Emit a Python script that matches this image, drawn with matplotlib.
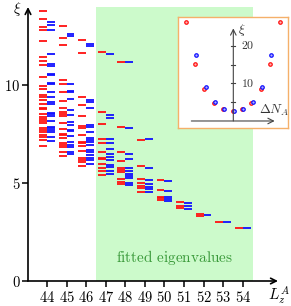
import numpy as np
import matplotlib
matplotlib.use("Agg")
import matplotlib.pyplot as plt

plt.rcParams['mathtext.fontset'] = 'cm'
plt.rcParams['font.size'] = 10

# entanglement levels (xi) per L_z^A sector, red / blue branches
Ls = [44, 45, 46, 47, 48, 49, 50, 51, 52, 53, 54]

red_44 = [13.78, 13.37, 12.96, 12.81, 12.26, 11.43, 11.22, 11.02, 10.42, 9.93, 9.80, 9.51, 9.40,
          9.25, 9.02, 8.83, 8.76, 8.52, 8.38, 8.27, 8.16, 8.05, 7.81, 7.70, 7.60, 7.43, 7.33, 7.18, 6.87]
blue_44 = [13.23, 13.06, 12.79, 11.57, 11.09, 10.98, 10.58, 10.51, 10.10, 10.05, 9.63, 9.40, 9.15,
           9.02, 8.59, 8.52, 8.43, 8.18, 7.87, 7.81, 7.70, 7.60, 7.36, 7.13]
red_45 = [12.99, 12.41, 12.04, 10.24, 10.04, 9.63, 9.17, 8.84, 8.64, 8.52, 8.42, 8.05, 7.76, 7.48,
          7.43, 7.30, 7.03, 6.92, 6.84, 6.58, 6.38]
blue_45 = [12.59, 12.50, 10.05, 9.71, 9.63, 9.30, 8.74, 8.45, 8.11, 7.96, 7.72, 7.65, 7.40, 7.07,
           6.94, 6.86, 6.57, 6.49]
red_46 = [12.28, 11.65, 9.40, 9.00, 8.43, 7.89, 7.82, 7.44, 7.11, 7.02, 6.89, 6.63, 6.28, 6.17, 6.06, 5.87]
blue_46 = [12.09, 11.99, 9.22, 9.13, 8.82, 7.96, 7.87, 7.60, 7.30, 7.19, 7.11, 6.96, 6.68, 6.58,
           6.44, 6.29, 6.19, 5.98]
red_47 = [11.67, 8.60, 8.00, 7.23, 7.04, 6.58, 6.28, 6.20, 5.96, 5.77, 5.60, 5.40]
blue_47 = [11.59, 8.48, 8.31, 7.22, 7.02, 6.72, 6.46, 6.31, 6.19, 5.91, 5.84, 5.59, 5.47]
red_48 = [11.15, 7.87, 6.57, 6.14, 5.75, 5.65, 5.54, 5.22, 5.07, 4.95]
blue_48 = [11.17, 7.82, 6.47, 6.21, 5.79, 5.62, 5.48, 5.37, 5.24, 5.01, 4.88]
red_49 = [7.18, 5.88, 5.20, 5.00, 4.86, 4.73, 4.54]
blue_49 = [7.22, 5.77, 5.15, 4.93, 4.81, 4.68, 4.53]
red_50 = [5.15, 4.66, 4.30, 4.22, 4.12]
blue_50 = [5.09, 4.58, 4.30, 4.20, 4.10]
red_51 = [4.05, 3.84, 3.71]
blue_51 = [3.99, 3.83, 3.69]
red_52 = [3.40, 3.33]
blue_52 = [3.35]
red_53 = [3.03]
blue_53 = [3.01]
red_54 = [2.72]
blue_54 = [2.70]

reds = [red_44, red_45, red_46, red_47, red_48, red_49, red_50, red_51, red_52, red_53, red_54]
blues = [blue_44, blue_45, blue_46, blue_47, blue_48, blue_49, blue_50, blue_51, blue_52, blue_53, blue_54]

# inset: lowest level vs Delta N_A
dN_red = [-5, -4, -3, -2, -1, 0, 1, 2, 3, 4, 5]
xi_red = [26.5, 15.2, 8.45, 4.8, 3.1, 2.67, 3.1, 4.8, 8.45, 15.2, 26.5]
dN_blue = [-4, -3, -2, -1, 0, 1, 2, 3, 4]
xi_blue = [17.6, 9.15, 5.0, 3.2, 2.67, 3.2, 5.0, 9.15, 17.6]

fit_lo, fit_hi = 46.5, 54.5

W, H = 291, 306
fig = plt.figure(figsize=(W / 100, H / 100), dpi=100)
ax = fig.add_axes([28 / W, 25 / H, 250 / W, 274 / H])

ax.axvspan(fit_lo, fit_hi, color='#ccfacb', lw=0, zorder=0)

for L, r, b in zip(Ls, reds, blues):
    ax.hlines(r, L - 0.4, L, colors='#ff1010', lw=1.3, zorder=2)
    ax.hlines(b, L, L + 0.4, colors='#1010ff', lw=1.3, zorder=2)

ax.text(50.5, 1.22, r'$\mathrm{fitted\ eigenvalues}$', color='#3a9a3a', fontsize=11,
        ha='center', va='center')

ax.set_xlim(43.03, 55.8)
ax.set_ylim(0, 13.98)
for s in ax.spines.values():
    s.set_visible(False)
ax.annotate('', xy=(1, 0), xytext=(0, 0), xycoords='axes fraction',
            arrowprops=dict(arrowstyle='->', lw=1.2, color='k', shrinkA=0, shrinkB=0))
ax.annotate('', xy=(0, 1), xytext=(0, 0), xycoords='axes fraction',
            arrowprops=dict(arrowstyle='->', lw=1.2, color='k', shrinkA=0, shrinkB=0))
ax.set_xticks(Ls)
ax.set_xticklabels(['$%d$' % L for L in Ls], fontsize=10.5)
ax.set_yticks([0, 5, 10])
ax.set_yticklabels(['$0$', '$5$', '$10$'], fontsize=10.5)
ax.tick_params(axis='x', direction='out', length=4.5, width=1.1, pad=2)
ax.tick_params(axis='y', direction='out', length=4.5, width=1.1, pad=1)
ax.patch.set_alpha(0)

fig.text(17 / W, 1 - 9 / H, r'$\xi$', fontsize=10.5, ha='center', va='center')
fig.text(279 / W, 1 - 296 / H, r'$L_z^A$', fontsize=11, ha='center', va='center')

# inset
ins = fig.add_axes([177.5 / W, 1 - 128.3 / H, 110.5 / W, 111.3 / H])
ins.set_xlim(-5.94, 5.82)
ins.set_ylim(-1.95, 27.73)
ins.set_xticks([])
ins.set_yticks([])
for s in ins.spines.values():
    s.set_color('#f5b06a')
    s.set_linewidth(1.0)
ins.annotate('', xy=(4.4, 0), xytext=(-4.47, 0),
             arrowprops=dict(arrowstyle='->', lw=0.8, color='#444444', shrinkA=0, shrinkB=0))
ins.annotate('', xy=(0, 24.7), xytext=(0, 0),
             arrowprops=dict(arrowstyle='->', lw=0.8, color='#444444', shrinkA=0, shrinkB=0))
for t in [5, 10, 15, 20]:
    ins.plot([-0.2, 0.2], [t, t], color='#444444', lw=0.8)
ins.text(0.8, 10, '$10$', fontsize=8.5, ha='left', va='center', color='#333333')
ins.text(0.8, 20, '$20$', fontsize=8.5, ha='left', va='center', color='#333333')
ins.text(0.9, 24.3, r'$\xi$', fontsize=9.5, ha='center', va='center', color='#333333')
ins.text(4.3, 2.8, r'$\Delta N_A$', fontsize=9.5, ha='center', va='center', color='#333333')

ins.plot(np.array(dN_red) - 0.08, xi_red, 'o', ms=2.5, mfc='#ffb0b0', mec='#ff1010', mew=0.9)
ins.plot(np.array(dN_blue) + 0.06, xi_blue, 'o', ms=2.5, mfc='#b0b0ff', mec='#1010ff', mew=0.9)

fig.savefig('out.png', dpi=100)
